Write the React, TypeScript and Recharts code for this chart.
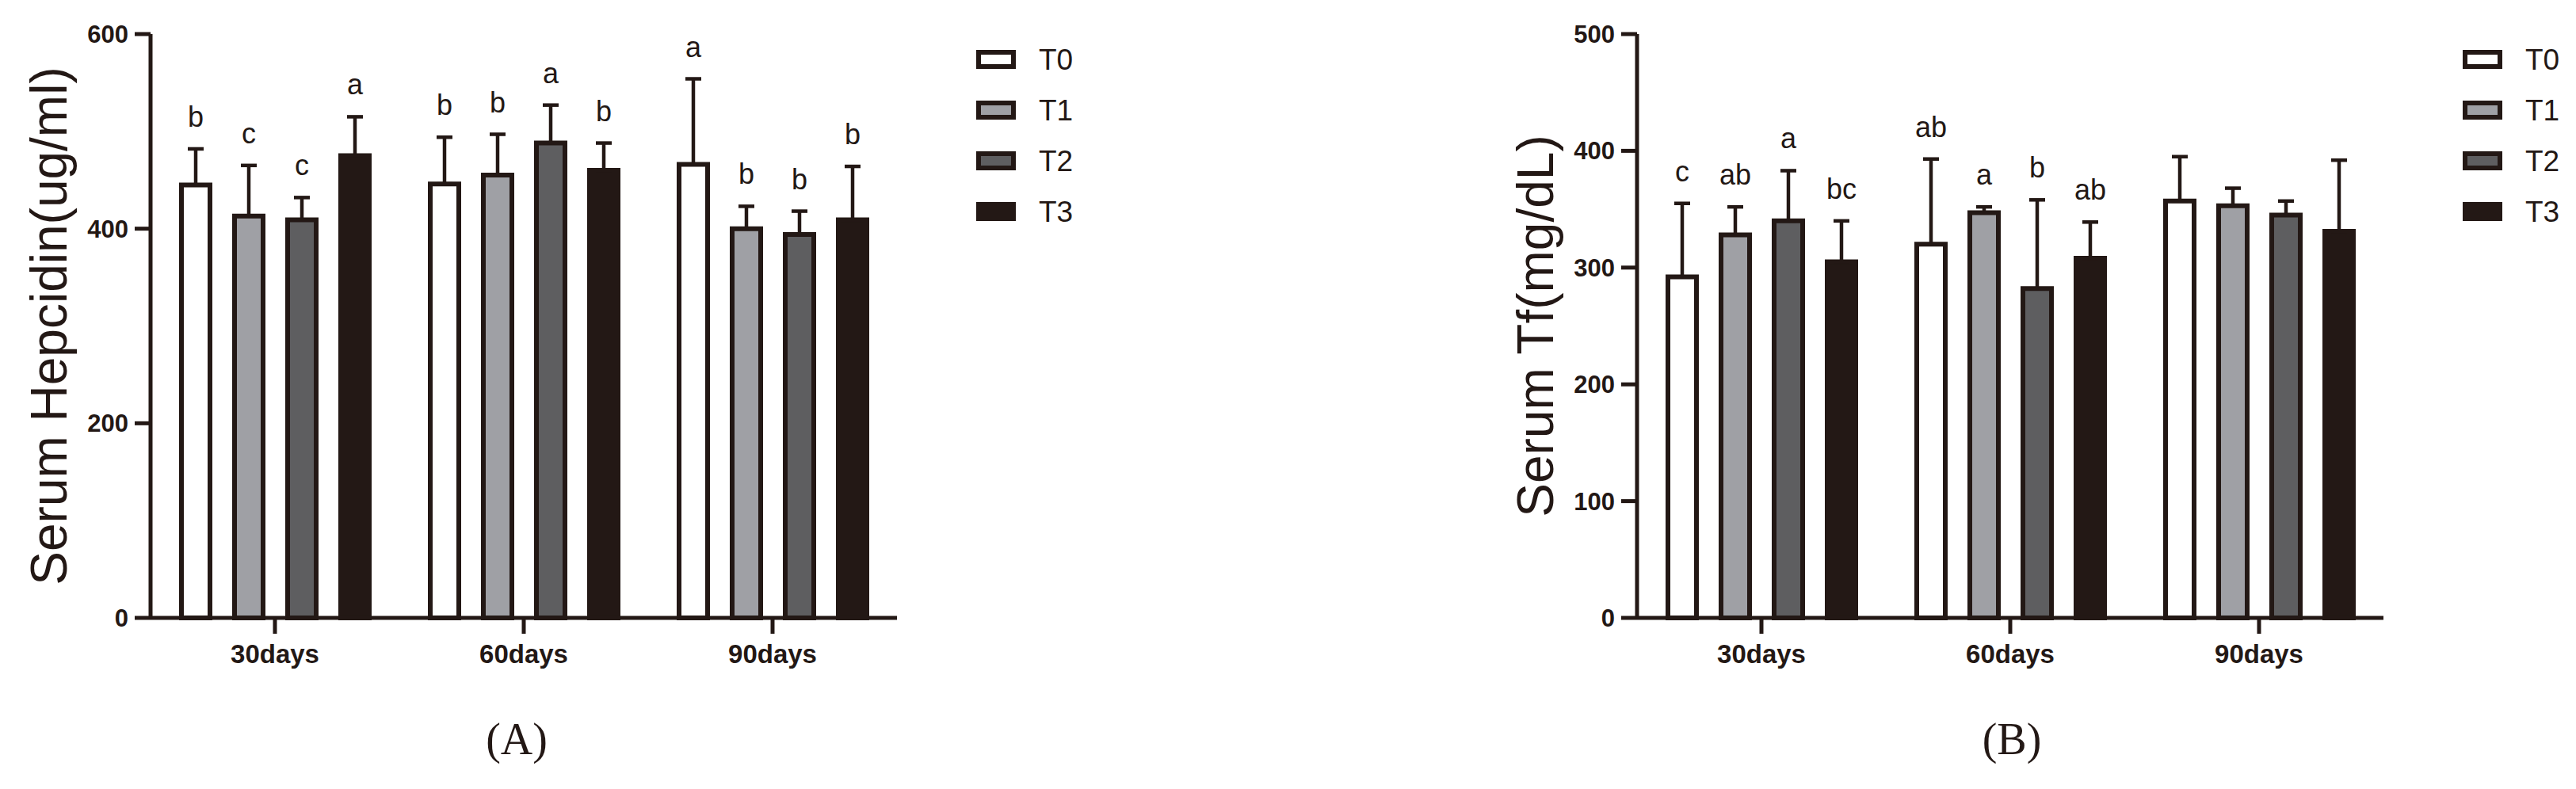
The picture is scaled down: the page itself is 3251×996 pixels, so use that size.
import React from 'react';
import { BarChart, Bar, XAxis, YAxis, ErrorBar, LabelList, Legend } from 'recharts';

const CATEGORIES = ['30days', '60days', '90days'];
const GROUPS = ['T0', 'T1', 'T2', 'T3'];
const Y_TICKS_A = [0, 200, 400, 600];
const Y_TICKS_B = [0, 100, 200, 300, 400, 500];

// Panel A: Serum Hepcidin (ug/ml)
const hepT0 = [445, 446, 466];
const hepT1 = [413, 455, 400];
const hepT2 = [409, 488, 394];
const hepT3 = [475, 460, 409];
const hepT0Err = [37, 48, 88];
const hepT1Err = [52, 42, 23];
const hepT2Err = [23, 39, 24];
const hepT3Err = [40, 28, 55];
const hepT0Sig = ['b', 'b', 'a'];
const hepT1Sig = ['c', 'b', 'b'];
const hepT2Sig = ['c', 'a', 'b'];
const hepT3Sig = ['a', 'b', 'b'];

// Panel B: Serum Tf (mg/dL)
const tfT0 = [292, 320, 357];
const tfT1 = [328, 347, 353];
const tfT2 = [340, 282, 345];
const tfT3 = [305, 308, 331];
const tfT0Err = [63, 73, 38];
const tfT1Err = [24, 5, 15];
const tfT2Err = [43, 76, 12];
const tfT3Err = [35, 31, 61];
const tfT0Sig = ['c', 'ab', ''];
const tfT1Sig = ['ab', 'a', ''];
const tfT2Sig = ['a', 'b', ''];
const tfT3Sig = ['bc', 'ab', ''];

const INK = '#231815';
const FILLS = ['#ffffff', '#9fa0a5', '#5e5e60', '#231815'];
const FONT = '"Liberation Sans", Arial, Helvetica, sans-serif';
const SERIF = '"Liberation Serif", "Times New Roman", serif';

function buildRows(means: number[][], errs: number[][], sigs: string[][]) {
  return CATEGORIES.map((cat, i) => {
    const row: any = { cat };
    GROUPS.forEach((g, k) => {
      row[g] = means[k][i];
      row[g + '_err'] = [0, errs[k][i]];
      row[g + '_top'] = means[k][i] + errs[k][i];
      row[g + '_sig'] = sigs[k][i];
    });
    return row;
  });
}

const rowsA = buildRows(
  [hepT0, hepT1, hepT2, hepT3],
  [hepT0Err, hepT1Err, hepT2Err, hepT3Err],
  [hepT0Sig, hepT1Sig, hepT2Sig, hepT3Sig]
);
const rowsB = buildRows(
  [tfT0, tfT1, tfT2, tfT3],
  [tfT0Err, tfT1Err, tfT2Err, tfT3Err],
  [tfT0Sig, tfT1Sig, tfT2Sig, tfT3Sig]
);

const renderLegend = () => (
  <div style={{ display: 'flex', flexDirection: 'column', width: 200 }}>
    {GROUPS.map((g, k) => (
      <div key={g} style={{ display: 'flex', alignItems: 'center', height: 64 }}>
        <svg width={50} height={24} style={{ display: 'block' }}>
          <rect x={3} y={3} width={44} height={18} fill={FILLS[k]} stroke={INK} strokeWidth={6} />
        </svg>
        <span style={{ marginLeft: 29, fontSize: 37, fontFamily: FONT, color: INK, lineHeight: 1 }}>{g}</span>
      </div>
    ))}
  </div>
);

type PanelProps = { left: number; rows: any[]; yMax: number; yTicks: number[]; yLabel: string };

function Panel({ left, rows, yMax, yTicks, yLabel }: PanelProps) {
  const renderYLabel = (props: any) => {
    const vb = props && props.viewBox ? props.viewBox : { x: 0, y: 43, width: 190, height: 737 };
    const cx = vb.x + 62;
    const cy = vb.y + vb.height / 2;
    return (
      <text
        x={cx}
        y={cy}
        transform={`rotate(-90, ${cx}, ${cy})`}
        textAnchor="middle"
        dominantBaseline="central"
        fontSize={64}
        fontFamily={FONT}
        fill={INK}
      >
        {yLabel}
      </text>
    );
  };
  return (
    <div style={{ position: 'absolute', left, top: 0 }}>
      <BarChart
        width={1700}
        height={996}
        data={rows}
        margin={{ top: 43, right: 568, bottom: 156, left: 0 }}
        barSize={36}
        barGap={31}
      >
        <XAxis
          dataKey="cat"
          height={60}
          axisLine={{ stroke: INK, strokeWidth: 5 }}
          tickLine={{ stroke: INK, strokeWidth: 5 }}
          tickSize={20}
          tickMargin={14}
          tick={{ fontSize: 33, fontWeight: 700, fill: INK, fontFamily: FONT }}
        />
        <XAxis dataKey="cat" xAxisId="lbl" hide />
        <YAxis
          width={190}
          domain={[0, yMax]}
          ticks={yTicks}
          interval={0}
          axisLine={{ stroke: INK, strokeWidth: 5 }}
          tickLine={{ stroke: INK, strokeWidth: 5 }}
          tickSize={20}
          tickMargin={8}
          tick={{ fontSize: 31, fontWeight: 700, fill: INK, fontFamily: FONT }}
          label={renderYLabel}
        />
        {GROUPS.map((g, k) => (
          <Bar key={g} dataKey={g} name={g} fill={FILLS[k]} stroke={INK} strokeWidth={6} isAnimationActive={false}>
            <ErrorBar dataKey={g + '_err'} width={10} stroke={INK} strokeWidth={4.5} direction="y" />
          </Bar>
        ))}
        {GROUPS.map((g) => (
          <Bar
            key={g + '_lbl'}
            dataKey={g + '_top'}
            xAxisId="lbl"
            fill="none"
            stroke="none"
            legendType="none"
            isAnimationActive={false}
          >
            <LabelList
              dataKey={g + '_sig'}
              position="top"
              offset={28}
              fill={INK}
              stroke="none"
              fontSize={36}
              fontFamily={FONT}
            />
          </Bar>
        ))}
        <Legend content={renderLegend} wrapperStyle={{ left: 1232, top: 43, width: 0, height: 0 }} />
      </BarChart>
    </div>
  );
}

export default function App() {
  return (
    <div style={{ position: 'absolute', left: 0, top: 0, width: 3251, height: 996, background: '#ffffff', overflow: 'hidden' }}>
      <Panel left={0} rows={rowsA} yMax={600} yTicks={Y_TICKS_A} yLabel="Serum Hepcidin(ug/ml)" />
      <Panel left={1876} rows={rowsB} yMax={500} yTicks={Y_TICKS_B} yLabel="Serum Tf(mg/dL)" />
      <div style={{ position: 'absolute', left: 552, width: 200, top: 905, textAlign: 'center', fontFamily: SERIF, fontSize: 56, lineHeight: 1, color: INK }}>(A)</div>
      <div style={{ position: 'absolute', left: 2439, width: 200, top: 905, textAlign: 'center', fontFamily: SERIF, fontSize: 56, lineHeight: 1, color: INK }}>(B)</div>
    </div>
  );
}
